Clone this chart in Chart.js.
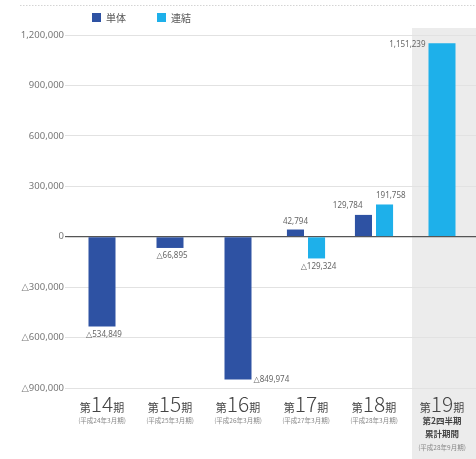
<!DOCTYPE html>
<html><head><meta charset="utf-8">
<script src="https://cdn.jsdelivr.net/npm/chart.js@4"></script>
<style>html,body{margin:0;padding:0;background:#fff}#wrap{width:476px;height:459px;position:relative}</style>
</head><body><div id="wrap"><canvas id="c"></canvas></div>
<script>
// 業績推移（単体・連結）
const categories = ['第14期', '第15期', '第16期', '第17期', '第18期', '第19期'];
const periodNotes = [
  ['(平成24年3月期)'],
  ['(平成25年3月期)'],
  ['(平成26年3月期)'],
  ['(平成27年3月期)'],
  ['(平成28年3月期)'],
  ['第2四半期', '累計期間', '(平成28年9月期)']
];
const seriesNames = ['単体', '連結'];
const standalone = [-534849, -66895, -849974, 42794, 129784, null];
const consolidated = [null, null, null, -129324, 191758, 1151239];
const yTicks = [-900000, -600000, -300000, 0, 300000, 600000, 900000, 1200000];

const COLORS = ['#2e52a3', '#1eb0ea'];
const JP = '"Noto Sans CJK JP", "Noto Sans", sans-serif';
const NUM = '"Noto Sans", "DejaVu Sans", sans-serif';

function fmt(v) {
  const s = Math.abs(v).toLocaleString('en-US');
  return v < 0 ? '△' + s : s;
}

// where each value label sits relative to its bar
const labelPlacement = [
  ['below', 'below', 'right', 'above', 'aboveLeft', null],
  [null, null, null, 'below', 'aboveRight', 'left']
];

const bandPlugin = {
  id: 'band',
  beforeDraw(chart) {
    const { ctx, scales: { x } } = chart;
    const half = (x.getPixelForValue(1) - x.getPixelForValue(0)) / 2;
    const left = x.getPixelForValue(categories.length - 1) - half + 4;
    ctx.save();
    ctx.fillStyle = '#ececec';
    ctx.fillRect(left, 28, chart.width - left, chart.height - 28);
    // faint dotted rule along the top edge
    ctx.strokeStyle = '#d4d4d4';
    ctx.setLineDash([1.5, 1.5]);
    ctx.lineWidth = 1;
    ctx.beginPath();
    ctx.moveTo(20, 5.5);
    ctx.lineTo(chart.width, 5.5);
    ctx.stroke();
    ctx.restore();
  }
};

const legendPlugin = {
  id: 'miniLegend',
  afterDraw(chart) {
    const { ctx } = chart;
    const xs = [92, 157];
    ctx.save();
    ctx.font = '10px ' + JP;
    ctx.textBaseline = 'middle';
    chart.data.datasets.forEach((ds, i) => {
      ctx.fillStyle = ds.backgroundColor;
      ctx.fillRect(xs[i], 13, 9, 9);
      ctx.fillStyle = '#555';
      ctx.fillText(ds.label, xs[i] + 14, 18);
    });
    ctx.restore();
  }
};

const valueLabelPlugin = {
  id: 'valueLabels',
  afterDatasetsDraw(chart) {
    const { ctx } = chart;
    ctx.save();
    ctx.font = '8px ' + NUM;
    ctx.fillStyle = '#666';
    chart.data.datasets.forEach((ds, di) => {
      const meta = chart.getDatasetMeta(di);
      meta.data.forEach((bar, i) => {
        const v = ds.data[i];
        if (v === null || v === undefined) return;
        const mode = labelPlacement[di][i];
        const p = bar.getProps(['x', 'y', 'base', 'width'], true);
        const end = p.y;
        const text = fmt(v);
        let tx = p.x, ty = end, align = 'center', base = 'middle';
        if (mode === 'below') { ty = end + 4; base = 'top'; tx = p.x + 2; }
        else if (mode === 'above') { ty = end - 4; base = 'bottom'; }
        else if (mode === 'aboveLeft') { ty = end - 5; base = 'bottom'; align = 'right'; tx = p.x - 1; }
        else if (mode === 'aboveRight') { ty = end - 5; base = 'bottom'; align = 'left'; tx = p.x - p.width / 2; }
        else if (mode === 'right') { ty = end; align = 'left'; tx = p.x + p.width / 2 + 2; }
        else if (mode === 'left') { ty = end + 2; align = 'right'; tx = p.x - p.width / 2 - 3; }
        ctx.textAlign = align;
        ctx.textBaseline = base;
        ctx.fillText(text, tx, ty);
      });
    });
    ctx.restore();
  }
};

const categoryLabelPlugin = {
  id: 'categoryLabels',
  afterDraw(chart) {
    const { ctx, scales: { x }, chartArea } = chart;
    ctx.save();
    categories.forEach((cat, i) => {
      const cx = x.getPixelForValue(i);
      const m = cat.match(/^(\D*)(\d+)(\D*)$/);
      const parts = m ? [[m[1], '11px ' + JP], [m[2], '300 21px ' + JP], [m[3], '11px ' + JP]] : [[cat, '11px ' + JP]];
      let total = 0;
      parts.forEach(([t, f]) => { ctx.font = f; total += ctx.measureText(t).width; });
      let px = cx - total / 2;
      const baseY = chartArea.bottom + 24;
      ctx.fillStyle = '#444';
      ctx.textBaseline = 'alphabetic';
      ctx.textAlign = 'left';
      parts.forEach(([t, f]) => {
        ctx.font = f;
        ctx.fillText(t, px, baseY);
        px += ctx.measureText(t).width;
      });
      ctx.textAlign = 'center';
      const notes = periodNotes[i];
      notes.forEach((line, li) => {
        const isPeriod = line.startsWith('(');
        ctx.font = isPeriod ? '6.5px ' + JP : 'bold 8.5px ' + JP;
        ctx.fillStyle = isPeriod ? '#888' : '#444';
        const y = notes.length === 1 ? baseY + 11 : baseY + 12 + li * 13;
        ctx.fillText(line, cx, y);
      });
    });
    ctx.restore();
  }
};

new Chart(document.getElementById('c'), {
  type: 'bar',
  data: {
    labels: categories,
    datasets: [
      { label: seriesNames[0], data: standalone, backgroundColor: COLORS[0] },
      { label: seriesNames[1], data: consolidated, backgroundColor: COLORS[1] }
    ]
  },
  options: {
    responsive: true,
    maintainAspectRatio: false,
    animation: false,
    skipNull: true,
    categoryPercentage: 0.62,
    barPercentage: 0.81,
    maxBarThickness: 27,
    layout: { padding: { top: 35, right: 0, bottom: 63, left: 0 } },
    plugins: { legend: { display: false }, tooltip: { enabled: false } },
    scales: {
      x: {
        ticks: { display: false },
        grid: { display: false },
        border: { display: false }
      },
      y: {
        min: -900000,
        max: 1200000,
        afterBuildTicks(scale) { scale.ticks = yTicks.map(v => ({ value: v })); },
        afterFit(scale) { scale.width = 68; },
        ticks: {
          padding: 1,
          color: '#777',
          font: { size: 9.5, family: NUM },
          callback: v => fmt(v)
        },
        grid: {
          drawTicks: true,
          tickLength: 3,
          color: c => c.tick && c.tick.value === 0 ? '#555' : '#e2e2e2',
          tickColor: c => c.tick && c.tick.value === 0 ? '#555' : '#e2e2e2',
          lineWidth: c => c.tick && c.tick.value === 0 ? 1.2 : 1
        },
        border: { display: false }
      }
    }
  },
  plugins: [bandPlugin, legendPlugin, valueLabelPlugin, categoryLabelPlugin]
});
</script>
</body></html>
